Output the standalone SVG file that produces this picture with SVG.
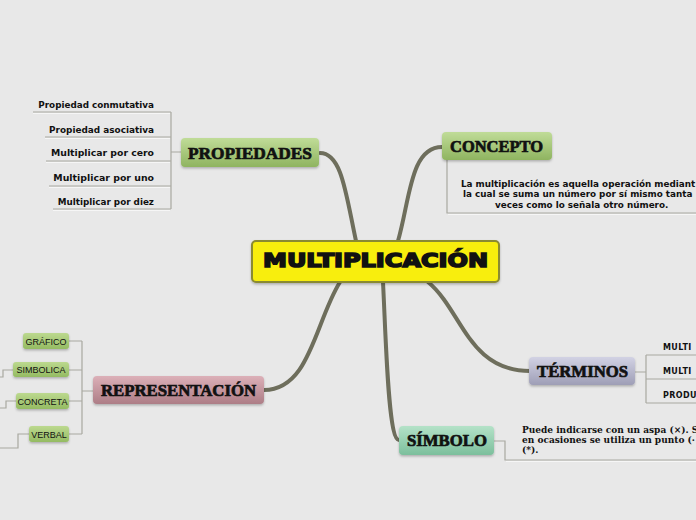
<svg xmlns="http://www.w3.org/2000/svg" width="696" height="520" viewBox="0 0 696 520">
<style>
.bg{fill:#e8e8e8}
.main{fill:none;stroke:#6e6e5c;stroke-width:4;stroke-linecap:round}
.thin{fill:none;stroke:#a8a8a0;stroke-width:1.2}
.thinsh{fill:none;stroke:#f6f6f6;stroke-width:1}
.title{font-family:"Liberation Serif",serif;font-weight:bold;fill:#111;stroke:#111;stroke-width:0.7}
.lbl{font-family:"DejaVu Sans",sans-serif;font-weight:bold;fill:#111}
.sub{font-family:"Liberation Sans",sans-serif;font-size:9px;fill:#111;text-anchor:middle}
.serifb{font-family:"DejaVu Serif",serif;font-weight:bold;font-size:9px;fill:#111}
</style>
<defs>
<linearGradient id="gGreen" x1="0" y1="0" x2="0" y2="1"><stop offset="0" stop-color="#c0dc98"/><stop offset="1" stop-color="#8fb460"/></linearGradient>
<linearGradient id="gSub" x1="0" y1="0" x2="0" y2="1"><stop offset="0" stop-color="#bcd98f"/><stop offset="1" stop-color="#94bb62"/></linearGradient>
<linearGradient id="gLav" x1="0" y1="0" x2="0" y2="1"><stop offset="0" stop-color="#d2d2e4"/><stop offset="1" stop-color="#9e9eb6"/></linearGradient>
<linearGradient id="gMint" x1="0" y1="0" x2="0" y2="1"><stop offset="0" stop-color="#b4e2c8"/><stop offset="1" stop-color="#7cbf9c"/></linearGradient>
<linearGradient id="gRose" x1="0" y1="0" x2="0" y2="1"><stop offset="0" stop-color="#dcb0b8"/><stop offset="1" stop-color="#ad7d86"/></linearGradient>
<filter id="sh" x="-10%" y="-20%" width="120%" height="150%"><feDropShadow dx="0" dy="1.5" stdDeviation="1" flood-color="#000" flood-opacity="0.25"/></filter>
</defs>
<rect class="bg" x="0" y="0" width="696" height="520"/>

<g id="connectors">
<path class="main" d="M320,153 C342,153 346,195 356,241"/>
<path class="main" d="M398,241 C410,200 410,147 442,147"/>
<path class="main" d="M340,282 C315,322 310,390 264,390"/>
<path class="main" d="M383,282 C386,340 388,440 399,440"/>
<path class="main" d="M428,282 C462,310 468,371 530,371"/>
<path class="thin" d="M181,152 H171 M171,112 V209 M33,112 H171 M45,137 H171 M46,161 H171 M49,186 H171 M53,209 H171"/>
<path class="thinsh" d="M33,113.5 H170 M45,138.5 H170 M46,162.5 H170 M49,187.5 H170 M53,210.5 H170"/>
<path class="thin" d="M447,160 V213 H696"/>
<path class="thinsh" d="M448,214.5 H696"/>
<path class="thin" d="M635,372 H646 M646,355 V403 M646,355 H696 M646,379 H696 M646,403 H696"/>
<path class="thin" d="M494,441 H505 V460 H696"/>
<path class="thinsh" d="M506,461.5 H696"/>
<path class="thin" d="M93,391 H82 M82,341 V434 M69,341 H82 M69,370 H82 M69,401 H82 M69,434 H82"/>
<path class="thin" d="M13,370 H3 V377 H0 M16,401 H6 V408 H0 M29,434 H18 V448 H0"/>
</g>

<g id="center">
<rect x="252" y="241" width="247" height="41" rx="4" fill="#f8ee0a" stroke="#8a8a30" stroke-width="2" filter="url(#sh)"/>
<text x="263" y="267" font-family="'DejaVu Sans',sans-serif" font-weight="900" font-size="19" fill="#111" stroke="#111" stroke-width="1.6" textLength="225" lengthAdjust="spacingAndGlyphs">MULTIPLICACIÓN</text>
</g>

<g id="propiedades">
<rect x="181" y="138" width="138" height="29" rx="4" fill="url(#gGreen)" filter="url(#sh)"/>
<text class="title" x="188" y="159" font-size="17" textLength="124" lengthAdjust="spacingAndGlyphs">PROPIEDADES</text>
</g>
<g id="prop-items" class="lbl" text-anchor="end">
<text x="154" y="108" font-size="8.8">Propiedad conmutativa</text>
<text x="154" y="133" font-size="8.9">Propiedad asociativa</text>
<text x="154" y="156" font-size="9.3">Multiplicar por cero</text>
<text x="154" y="181" font-size="9.4">Multiplicar por uno</text>
<text x="154" y="205" font-size="8.8">Multiplicar por diez</text>
</g>

<g id="concepto">
<rect x="442" y="132" width="110" height="28" rx="4" fill="url(#gGreen)" filter="url(#sh)"/>
<text class="title" x="450" y="152" font-size="17" textLength="93" lengthAdjust="spacingAndGlyphs">CONCEPTO</text>
</g>
<g id="concepto-text" class="lbl" font-size="8.8">
<text x="461" y="187">La multiplicación es aquella operación mediant</text>
<text x="463" y="197">la cual se suma un número por sí mismo tanta</text>
<text x="495" y="208">veces como lo señala otro número.</text>
</g>

<g id="terminos">
<rect x="529" y="357" width="106" height="28" rx="4" fill="url(#gLav)" filter="url(#sh)"/>
<text class="title" x="537" y="377" font-size="17" textLength="91" lengthAdjust="spacingAndGlyphs">TÉRMINOS</text>
</g>
<g id="terminos-items" class="lbl" font-size="8" letter-spacing="0.4">
<text x="663" y="350">MULTI</text>
<text x="663" y="374">MULTI</text>
<text x="663" y="398">PRODU</text>
</g>

<g id="simbolo">
<rect x="399" y="426" width="95" height="29" rx="4" fill="url(#gMint)" filter="url(#sh)"/>
<text class="title" x="407" y="446" font-size="17" textLength="80" lengthAdjust="spacingAndGlyphs">SÍMBOLO</text>
</g>
<g id="simbolo-text" class="serifb">
<text x="522" y="433">Puede indicarse con un aspa (×). S</text>
<text x="522" y="443">en ocasiones se utiliza un punto (·</text>
<text x="522" y="453">(*).</text>
</g>

<g id="representacion">
<rect x="93" y="376" width="171" height="28" rx="4" fill="url(#gRose)" filter="url(#sh)"/>
<text class="title" x="101" y="396" font-size="17" textLength="155" lengthAdjust="spacingAndGlyphs">REPRESENTACIÓN</text>
</g>
<g id="grafico"><rect x="23" y="333" width="46" height="16" rx="3" fill="url(#gSub)" filter="url(#sh)"/><text class="sub" x="46" y="344.5">GRÁFICO</text></g>
<g id="simbolica"><rect x="13" y="362" width="56" height="15" rx="3" fill="url(#gSub)" filter="url(#sh)"/><text class="sub" x="41" y="373">SIMBOLICA</text></g>
<g id="concreta"><rect x="16" y="393" width="53" height="16" rx="3" fill="url(#gSub)" filter="url(#sh)"/><text class="sub" x="42.5" y="404.5">CONCRETA</text></g>
<g id="verbal"><rect x="29" y="426" width="40" height="16" rx="3" fill="url(#gSub)" filter="url(#sh)"/><text class="sub" x="49" y="437.5">VERBAL</text></g>
</svg>
